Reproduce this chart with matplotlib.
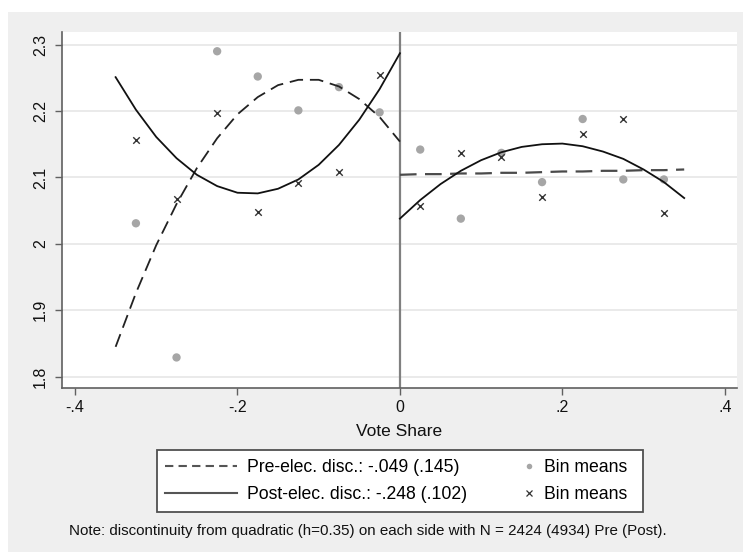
import matplotlib
matplotlib.use('Agg')
import matplotlib.pyplot as plt
from matplotlib.lines import Line2D
from matplotlib.patches import Rectangle

plt.rcParams['font.family'] = ['Liberation Sans', 'DejaVu Sans']

# bin midpoints
bins_left = [-0.325, -0.275, -0.225, -0.175, -0.125, -0.075, -0.025]
bins_right = [0.025, 0.075, 0.125, 0.175, 0.225, 0.275, 0.325]

# bin means, pre-election (circles) and post-election (x)
pre_means_left = [2.031, 1.829, 2.290, 2.252, 2.201, 2.236, 2.198]
pre_means_right = [2.142, 2.038, 2.137, 2.093, 2.188, 2.097, 2.097]
post_means_left = [2.157, 2.068, 2.197, 2.048, 2.092, 2.108, 2.254]
post_means_right = [2.057, 2.137, 2.131, 2.071, 2.166, 2.188, 2.046]

# fitted curves
fit_x_left = [-0.350, -0.325, -0.300, -0.275, -0.250, -0.225, -0.200, -0.175,
              -0.150, -0.125, -0.100, -0.075, -0.050, -0.025, 0.000]
fit_x_right = [0.000, 0.025, 0.050, 0.075, 0.100, 0.125, 0.150, 0.175,
               0.200, 0.225, 0.250, 0.275, 0.300, 0.325, 0.350]
pre_fit_left = [1.845, 1.926, 1.998, 2.060, 2.114, 2.159, 2.195, 2.221,
                2.239, 2.247, 2.247, 2.237, 2.218, 2.191, 2.154]
pre_fit_right = [2.104, 2.105, 2.105, 2.106, 2.106, 2.107, 2.107, 2.108,
                 2.109, 2.109, 2.110, 2.110, 2.111, 2.111, 2.112]
post_fit_left = [2.251, 2.202, 2.161, 2.129, 2.104, 2.087, 2.077, 2.076,
                 2.083, 2.097, 2.119, 2.149, 2.187, 2.233, 2.287]
post_fit_right = [2.038, 2.066, 2.090, 2.110, 2.126, 2.138, 2.146, 2.150,
                  2.151, 2.147, 2.139, 2.128, 2.112, 2.093, 2.069]

xticks = [-0.4, -0.2, 0, 0.2, 0.4]
xtick_labels = ['-.4', '-.2', '0', '.2', '.4']
yticks = [1.8, 1.9, 2.0, 2.1, 2.2, 2.3]
ytick_labels = ['1.8', '1.9', '2', '2.1', '2.2', '2.3']

pre_label = 'Pre-elec. disc.: -.049 (.145)'
post_label = 'Post-elec. disc.: -.248 (.102)'
note = ('Note: discontinuity from quadratic (h=0.35) on each side with '
        'N = 2424 (4934) Pre (Post).')

fig = plt.figure(figsize=(7.43, 5.52), dpi=100)
fig.patch.set_facecolor('white')
# stata-like graph region
fig.patches.append(Rectangle((8 / 743, 0), 1 - 8 / 743, 540 / 552,
                             transform=fig.transFigure, facecolor='#efefef',
                             edgecolor='none', zorder=-5))

ax = fig.add_axes([62 / 743, 1 - 388 / 552, 675 / 743, 356 / 552])
ax.set_zorder(2)
ax.set_facecolor('white')
ax.set_xlim(-0.416, 0.415)
ax.set_ylim(1.783, 2.319)

for y in yticks:
    ax.axhline(y, color='#e8e8e8', lw=1.3, zorder=0)
ax.axvline(0, color='#808080', lw=1.6, zorder=1)

dash = (0, (7.5, 3.8))
ax.plot(fit_x_left, pre_fit_left, color='#222222', lw=1.3, linestyle=dash, zorder=3)
ax.plot(fit_x_right, pre_fit_right, color='#4a4a4a', lw=1.6, linestyle=dash, zorder=3)
ax.plot(fit_x_left, post_fit_left, color='#111111', lw=1.3, zorder=3)
ax.plot(fit_x_right, post_fit_right, color='#111111', lw=1.3, zorder=3)

ax.scatter(bins_left + bins_right, pre_means_left + pre_means_right,
           s=36, color='#a6a6a6', edgecolors='none', zorder=2)
ax.scatter(bins_left + bins_right, post_means_left + post_means_right,
           s=22, marker='x', color='#333333', linewidths=1.0, zorder=4)

for side in ['top', 'right']:
    ax.spines[side].set_visible(False)
for side in ['left', 'bottom']:
    ax.spines[side].set_color('#606060')
    ax.spines[side].set_linewidth(1.2)

ax.set_xticks(xticks)
ax.set_xticklabels(xtick_labels)
ax.set_yticks(yticks)
ax.set_yticklabels(ytick_labels, rotation=90, va='center')
ax.tick_params(axis='both', direction='out', length=5, width=1.0,
               color='#606060', labelsize=11.5, labelcolor='#111111')
ax.tick_params(axis='y', pad=5)
ax.tick_params(axis='x', pad=4)
ax.set_xlabel('Vote Share', fontsize=12.5, labelpad=6, color='#111111')

# legend frame and two legend columns
fig.patches.append(Rectangle((157 / 743, 1 - 512 / 552), 486 / 743, 62 / 552,
                             transform=fig.transFigure, facecolor='white',
                             edgecolor='#505050', lw=1.3, zorder=1))
h_pre = Line2D([], [], color='#555555', lw=1.5, linestyle=(0, (4, 2.5)))
h_post = Line2D([], [], color='#555555', lw=1.5)
leg1 = fig.legend([h_pre, h_post], [pre_label, post_label], loc='center left',
                  bbox_to_anchor=(161 / 743, 1 - 481 / 552), frameon=False,
                  fontsize=12.7, handlelength=4.1, handletextpad=0.6,
                  labelspacing=0.55, borderpad=0.2, borderaxespad=0)
h_circ = Line2D([], [], linestyle='none', marker='o', markersize=4,
                color='#a6a6a6', markeredgewidth=0)
h_x = Line2D([], [], linestyle='none', marker='x', markersize=4,
             color='#333333', markeredgewidth=0.9)
leg2 = fig.legend([h_circ, h_x], ['Bin means', 'Bin means'], loc='center left',
                  bbox_to_anchor=(517 / 743, 1 - 481 / 552), frameon=False,
                  fontsize=12.7, handlelength=1.0, handletextpad=0.35,
                  labelspacing=0.55, borderpad=0.2, borderaxespad=0)

fig.text(367.5 / 743, 1 - 531 / 552, note, ha='center', va='center',
         fontsize=10.9, color='#111111')

fig.savefig('out.png', dpi=100)
